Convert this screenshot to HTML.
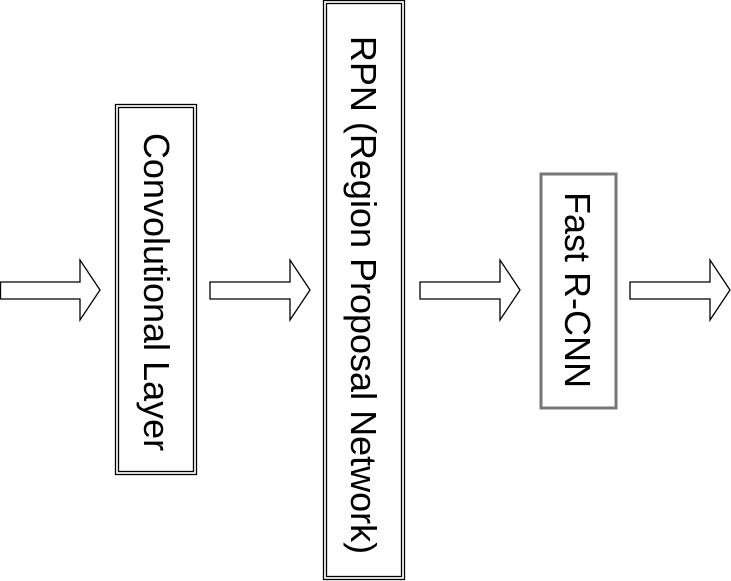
<!DOCTYPE html>
<html><head><style>body{margin:0;background:#fff}svg{display:block}</style></head>
<body>
<svg width="731" height="581" xmlns="http://www.w3.org/2000/svg" font-family="Liberation Sans, sans-serif">
<g fill="#fff" stroke="#000" stroke-width="1.3">
<polygon points="0.5,282 80,282 80,260 100,290 80,320 80,299 0.5,299"/>
<polygon points="210,282 290,282 290,260 310,290 290,320 290,299 210,299"/>
<polygon points="420,282 500,282 500,260 520,290 500,320 500,299 420,299"/>
<polygon points="630,282 710,282 710,260 730,290 710,320 710,299 630,299"/>
<rect x="115.5" y="104.5" width="81" height="370"/>
<rect x="118.5" y="107.5" width="75" height="364"/>
<rect x="323.5" y="0.5" width="81" height="579"/>
<rect x="326.5" y="3.5" width="75" height="573"/>
</g>
<rect x="541" y="174" width="75" height="234" fill="#fff" stroke="#777" stroke-width="3"/>
<g font-size="36" fill="#000" text-anchor="middle">
<text transform="translate(144,292) rotate(90)">Convolutional Layer</text>
<text transform="translate(351,295) rotate(90)">RPN (Region Proposal Network)</text>
<text transform="translate(565,290) rotate(90)">Fast R-CNN</text>
</g>
</svg>
</body></html>
